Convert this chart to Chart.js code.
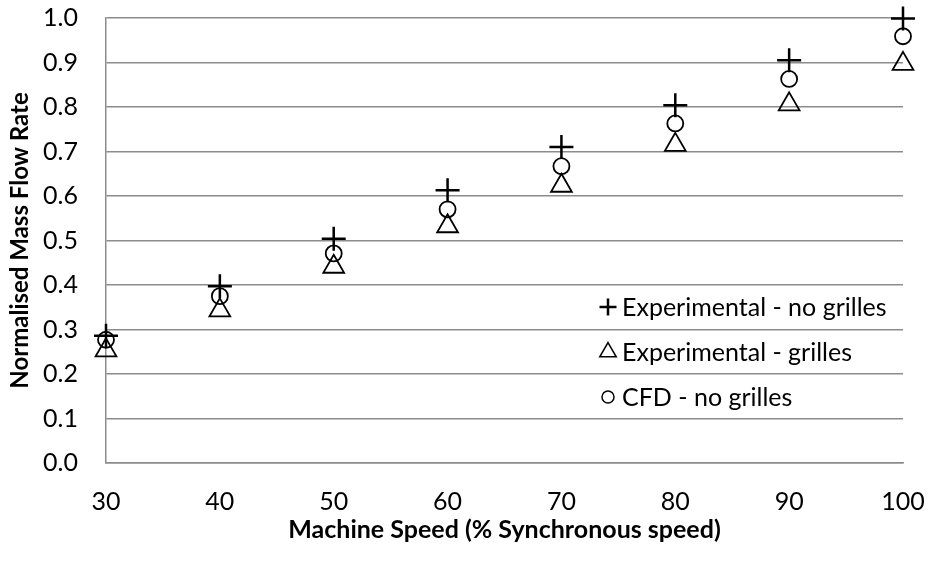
<!DOCTYPE html>
<html>
<head>
<meta charset="utf-8">
<script src="https://cdn.jsdelivr.net/npm/chart.js@4/dist/chart.umd.min.js"></script>
<style>
  html, body { margin: 0; padding: 0; background: #fff; }
  #wrap { width: 928px; height: 561px; }
</style>
</head>
<body>
<div id="wrap"><canvas id="chart" width="928" height="561"></canvas></div>
<script>
/* values */
const speeds = [30, 40, 50, 60, 70, 80, 90, 100];
const expNoGrilles = [0.286, 0.397, 0.504, 0.613, 0.710, 0.804, 0.905, 0.999];
const expGrilles = [0.253, 0.343, 0.441, 0.532, 0.623, 0.715, 0.806, 0.897];
const cfdNoGrilles = [0.277, 0.375, 0.471, 0.570, 0.667, 0.763, 0.863, 0.959];

const xTicks = [30, 40, 50, 60, 70, 80, 90, 100];
const yTicks = [0, 0.1, 0.2, 0.3, 0.4, 0.5, 0.6, 0.7, 0.8, 0.9, 1.0];

const FONT = "Lato";
const GRID = "#8c8c8c";

const toPoints = (vals) => speeds.map((s, i) => ({ x: s, y: vals[i] }));

/* legend sits inside the plot area, lower right */
const insideLegend = {
  id: "insideLegend",
  afterDraw(chart) {
    const ctx = chart.ctx;
    const area = chart.chartArea;
    const sizes = [8.5, 9.5, 6];
    ctx.save();
    ctx.font = "25px " + FONT;
    ctx.textBaseline = "middle";
    ctx.textAlign = "left";
    chart.data.datasets.forEach((ds, i) => {
      const mx = area.right - 295;
      const my = area.top + 289 + i * 45;
      ctx.strokeStyle = "#000";
      ctx.fillStyle = "rgba(0,0,0,0)";
      ctx.lineWidth = i === 0 ? 2.5 : 1.5;
      Chart.helpers.drawPoint(ctx, {
        pointStyle: ds.pointStyle,
        radius: sizes[i],
        rotation: 0,
        borderWidth: ctx.lineWidth
      }, mx, my);
      ctx.fillStyle = "#000";
      ctx.fillText(ds.label, mx + 14, my + 1);
    });
    ctx.restore();
  }
};

const config = {
  type: "scatter",
  data: {
    datasets: [
      {
        label: "Experimental - no grilles",
        data: toPoints(expNoGrilles),
        pointStyle: "cross",
        pointRadius: 12,
        borderColor: "#000",
        backgroundColor: "#000",
        pointBorderWidth: 2.5,
        clip: false,
      },
      {
        label: "Experimental - grilles",
        data: toPoints(expGrilles),
        pointStyle: "triangle",
        pointRadius: 12,
        borderColor: "#000",
        backgroundColor: "rgba(0,0,0,0)",
        pointBorderWidth: 1.8,
        clip: false,
      },
      {
        label: "CFD - no grilles",
        data: toPoints(cfdNoGrilles),
        pointStyle: "circle",
        pointRadius: 8,
        borderColor: "#000",
        backgroundColor: "rgba(0,0,0,0)",
        pointBorderWidth: 1.8,
        clip: false,
      },
    ],
  },
  options: {
    responsive: false,
    animation: false,
    layout: {
      padding: { top: 18, right: 25, left: 0, bottom: 0 },
    },
    scales: {
      x: {
        type: "linear",
        min: 30,
        max: 100,
        afterBuildTicks: (scale) => {
          scale.ticks = xTicks.map((v) => ({ value: v }));
        },
        afterFit: (scale) => {
          scale.height = 98;
          scale.paddingLeft = 0;
          scale.paddingRight = 0;
        },
        grid: {
          display: false,
          drawTicks: false,
        },
        border: {
          display: true,
          color: GRID,
          width: 1.5,
        },
        ticks: {
          color: "#000",
          padding: 24,
          maxRotation: 0,
          font: { family: FONT, size: 25 },
        },
        title: {
          display: true,
          text: "Machine Speed (% Synchronous speed)",
          color: "#000",
          font: { family: FONT, size: 25, weight: "bold" },
          padding: { top: 0, bottom: 16 },
        },
      },
      y: {
        min: 0,
        max: 1,
        afterBuildTicks: (scale) => {
          scale.ticks = yTicks.map((v) => ({ value: v }));
        },
        afterFit: (scale) => {
          scale.width = 106;
          scale.paddingTop = 0;
          scale.paddingBottom = 0;
        },
        grid: {
          color: GRID,
          lineWidth: 1.5,
          drawTicks: false,
        },
        border: {
          display: true,
          color: GRID,
          width: 1.5,
        },
        ticks: {
          color: "#000",
          padding: 28,
          font: { family: FONT, size: 25 },
          callback: (v) => Number(v).toFixed(1),
        },
        title: {
          display: true,
          text: "Normalised Mass Flow Rate",
          color: "#000",
          font: { family: FONT, size: 24, weight: "bold" },
          padding: { top: 6, bottom: 0 },
        },
      },
    },
    plugins: {
      legend: { display: false },
      title: { display: false },
      tooltip: { enabled: false },
    },
  },
  plugins: [insideLegend],
};

new Chart(document.getElementById("chart"), config);
</script>
</body>
</html>
